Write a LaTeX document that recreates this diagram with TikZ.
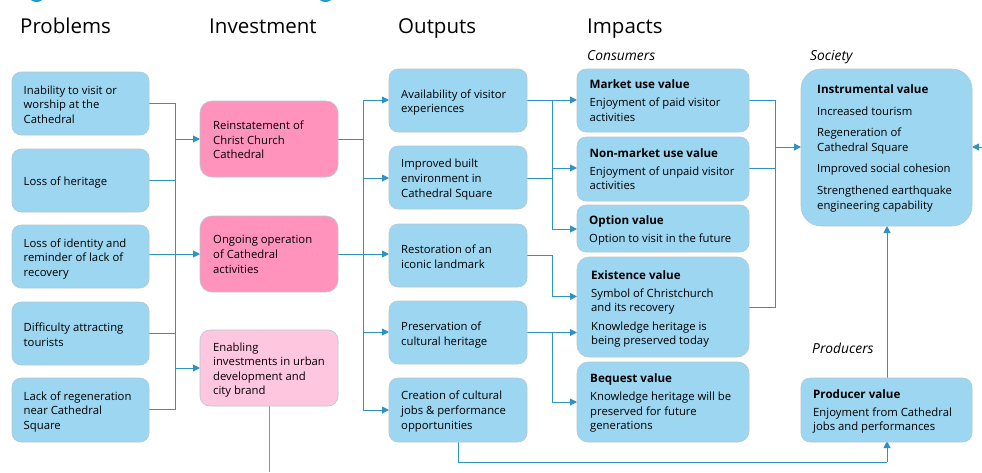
\documentclass[tikz,border=0pt]{standalone}
\usepackage{fontspec}
\setmainfont{Open Sans}
\usetikzlibrary{arrows.meta}
\definecolor{boxblue}{HTML}{9CD6F1}
\definecolor{boxedge}{HTML}{B4C8D2}
\definecolor{hotpink}{HTML}{FF93BB}
\definecolor{palepink}{HTML}{FFC6DF}
\definecolor{conn}{HTML}{2E93C2}
\definecolor{connd}{HTML}{6F9DB5}
\definecolor{titleblue}{HTML}{1C9CCB}
\newcommand{\hd}[1]{{\fontsize{11.6}{14.6}\selectfont\bfseries #1}}
\tikzset{x=1pt,y=-1pt,
 base/.style={draw=boxedge,line width=.6pt,inner sep=0pt,outer sep=0pt,text=black},
 line/.style={conn,line width=.95pt},
 arr/.style={conn,line width=.95pt,-{Triangle[length=7pt,width=7pt]}},
 head/.style={anchor=base west,inner sep=0pt,font=\fontsize{20.5}{24}\selectfont},
 subhead/.style={anchor=base west,inner sep=0pt,font=\fontsize{13.8}{16}\selectfont\itshape},
 lab/.style={anchor=west,inner sep=0pt,align=left,text=black,font=\fontsize{11.3}{14.6}\selectfont},
}
\newcommand{\rbox}[7]{% name, x0,y0,x1,y1, radius, fill
 \path[base,fill=#7,rounded corners=#6pt] (#2,#3) rectangle (#4,#5);
 \coordinate (#1w) at (#2,{(#3+#5)/2});
 \coordinate (#1e) at (#4,{(#3+#5)/2});
}
\begin{document}
\begin{tikzpicture}
\useasboundingbox (0,0) rectangle (982,472);
\fill[white] (0,0) rectangle (982,472);
\begin{scope}
\clip (0,0) rectangle (982,472);
\fill[titleblue] (36.5,-3) ellipse (7 and 5);
\fill[titleblue] (325.5,-3) ellipse (7 and 5);
\end{scope}
% headers
\node[head] at (20,33.5) (hp) {Problems};
\node[head] at (209,33.5) (hi) {Investment};
\node[head] at (398,33.5) (ho) {Outputs};
\node[head] at (587,33.5) (him) {Impacts};
\node[subhead] at (587,60) (sc) {Consumers};
\node[subhead] at (810,60) (ss) {Society};
\node[subhead] at (812,353) (sp) {Producers};
% connectors left
\draw[line] (149,103) -| (175,409) -- (149,409);
\draw[line] (149,180) -- (175,180);
\draw[line] (149,333) -- (175,333);
\draw[arr] (149,254) -- (200,254);
\draw[arr] (175,139) -- (200,139);
\draw[arr] (175,368) -- (200,368);
% investment to outputs
\draw[line] (338,139) -- (363,139);
\draw[arr] (338,254) -- (389,254);
\draw[line] (363,100) -- (363,410);
\draw[arr] (363,100) -- (389,100);
\draw[arr] (363,178) -- (389,178);
\draw[arr] (363,332) -- (389,332);
\draw[arr] (363,410) -- (389,410);
\draw[connd,line width=1pt] (269,406) -- (269,472);
% outputs to impacts
\draw[arr] (527,100) -- (577,100);
\draw[line] (527,178) -- (552,178);
\draw[line] (552,100) -- (552,229);
\draw[arr] (552,168) -- (577,168);
\draw[arr] (552,229) -- (577,229);
\draw[arr] (527,255) -- (552,255) -- (552,296.5) -- (577,296.5);
\draw[arr] (527,332.5) -- (577,332.5);
\draw[line] (552,332.5) -- (552,402);
\draw[arr] (552,402) -- (577,402);
% impacts to society
\draw[line] (749,100) -- (775,100) -- (775,307) -- (749,307);
\draw[line] (749,168.5) -- (775,168.5);
\draw[arr] (775,147) -- (801,147);
\draw[arr] (982,147) -- (972,147);
\draw[line] (458,441) -- (458,462) -- (887,462);
\draw[arr] (887,462) -- (887,441);
\draw[arr] (887,378) -- (887,226);
% boxes
\rbox{a}{12}{72}{149}{135}{9}{boxblue}
\rbox{b}{12}{149}{149}{212}{9}{boxblue}
\rbox{c}{12}{225}{149}{288}{9}{boxblue}
\rbox{d}{12}{302}{149}{365}{9}{boxblue}
\rbox{e}{12}{378}{149}{442}{9}{boxblue}
\rbox{f}{200}{101}{338}{177}{12}{hotpink}
\rbox{g}{200}{216}{338}{292}{12}{hotpink}
\rbox{h}{200}{330}{338}{406}{10}{palepink}
\rbox{i}{389}{69}{527}{132}{9}{boxblue}
\rbox{j}{389}{146}{527}{209}{9}{boxblue}
\rbox{k}{389}{224}{527}{287}{9}{boxblue}
\rbox{l}{389}{301}{527}{364}{9}{boxblue}
\rbox{m}{389}{378}{527}{442}{9}{boxblue}
\rbox{n}{577}{69}{749}{132}{9}{boxblue}
\rbox{o}{577}{137}{749}{201}{9}{boxblue}
\rbox{p}{577}{205}{749}{252}{9}{boxblue}
\rbox{q}{577}{257}{749}{357}{12}{boxblue}
\rbox{r}{577}{362}{749}{442}{11}{boxblue}
\rbox{s}{801}{69}{972}{226}{20}{boxblue}
\rbox{t}{801}{378}{972}{442}{9}{boxblue}
% labels
\node[lab] (ta) at (23.5,104.5) {Inability to visit or\\worship at the\\Cathedral};
\node[lab] (tb) at (23.5,182.5) {Loss of heritage};
\node[lab] (tc) at (23.5,259) {Loss of identity and\\reminder of lack of\\recovery};
\node[lab] (td) at (23.5,334.5) {Difficulty attracting\\tourists};
\node[lab] (te) at (23.5,412) {Lack of regeneration\\near Cathedral\\Square};
\node[lab] (tf) at (213,140) {Reinstatement of\\Christ Church\\Cathedral};
\node[lab] (tg) at (213,254.5) {Ongoing operation\\of Cathedral\\activities};
\node[lab] (th) at (213,370) {Enabling\\investments in urban\\development and\\city brand};
\node[lab] (ti) at (401,102.5) {Availability of visitor\\experiences};
\node[lab] (tj) at (401,179.5) {Improved built\\environment in\\Cathedral Square};
\node[lab] (tk) at (401,256.5) {Restoration of an\\iconic landmark};
\node[lab] (tl) at (401,335) {Preservation of\\cultural heritage};
\node[lab] (tm) at (401,411.5) {Creation of cultural\\jobs \& performance\\opportunities};
\node[lab,anchor=north west] (tn) at (589.5,79.5) {\hd{Market use value}\\[3.6pt]Enjoyment of paid visitor\\activities};
\node[lab,anchor=north west] (to) at (589.5,148) {\hd{Non-market use value}\\[3.6pt]Enjoyment of unpaid visitor\\activities};
\node[lab,anchor=north west] (tp) at (589,215) {\hd{Option value}\\[3.6pt]Option to visit in the future};
\node[lab,anchor=north west] (tq) at (591,270) {\hd{Existence value}\\[3.6pt]Symbol of Christchurch\\and its recovery\\[3.6pt]Knowledge heritage is\\being preserved today};
\node[lab,anchor=north west] (tr) at (590,373.5) {\hd{Bequest value}\\[3.6pt]Knowledge heritage will be\\preserved for future\\generations};
\node[lab,anchor=north west] (ts) at (817,84.5) {\hd{Instrumental value}\\[7pt]Increased tourism\\[7pt]Regeneration of\\Cathedral Square\\[7pt]Improved social cohesion\\[7pt]Strengthened earthquake\\engineering capability};
\node[lab,anchor=north west] (tt) at (813,389) {\hd{Producer value}\\[3.6pt]Enjoyment from Cathedral\\jobs and performances};
\end{tikzpicture}
\end{document}
